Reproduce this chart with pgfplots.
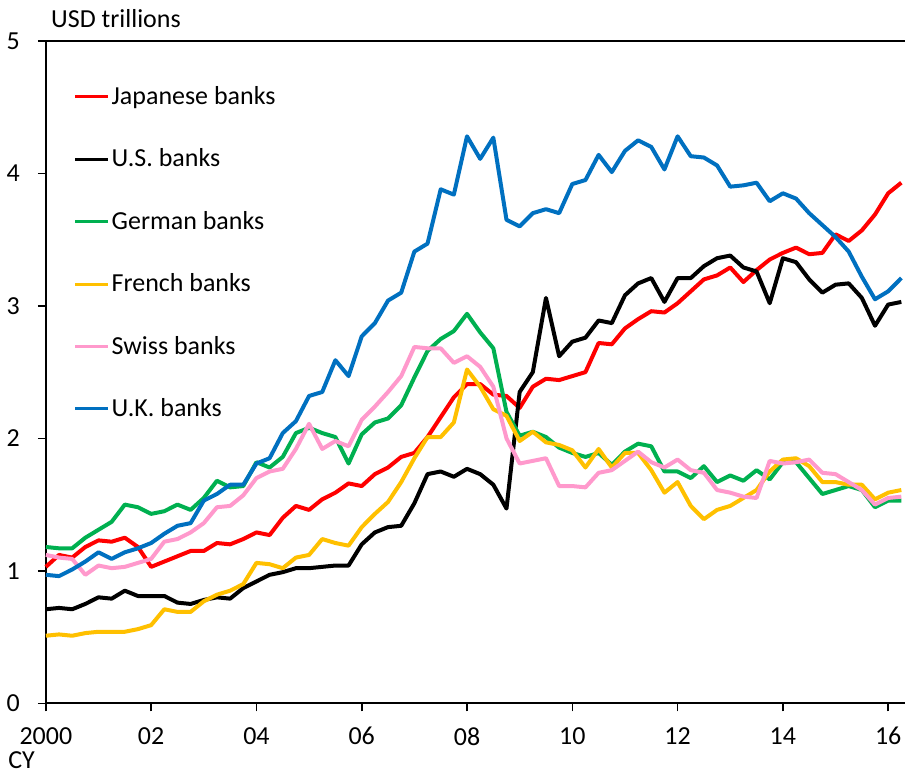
\documentclass[border=0pt]{standalone}
\usepackage{fontspec}
\setmainfont{Carlito}
\usepackage{pgfplots}
\usepackage{pgfplotstable}
\pgfplotsset{compat=1.18}

\definecolor{jpred}{HTML}{FF0000}
\definecolor{degreen}{HTML}{00B050}
\definecolor{fryellow}{HTML}{FFC000}
\definecolor{chpink}{HTML}{FF99CC}
\definecolor{ukblue}{HTML}{0070C0}

% quarterly, 2000Q1 .. 2016Q2 (USD trillions)
\pgfplotstableread{
t       jp    us    de    fr    ch    uk
2000.00 1.03  0.71  1.18  0.51  1.12  0.97
2000.25 1.12  0.72  1.17  0.52  1.10  0.96
2000.50 1.10  0.71  1.17  0.51  1.09  1.01
2000.75 1.18  0.75  1.25  0.53  0.97  1.07
2001.00 1.23  0.80  1.31  0.54  1.04  1.14
2001.25 1.22  0.79  1.37  0.54  1.02  1.09
2001.50 1.25  0.85  1.50  0.54  1.03  1.14
2001.75 1.18  0.81  1.48  0.56  1.06  1.17
2002.00 1.03  0.81  1.43  0.59  1.09  1.21
2002.25 1.07  0.81  1.45  0.71  1.22  1.28
2002.50 1.11  0.76  1.50  0.69  1.24  1.34
2002.75 1.15  0.75  1.46  0.69  1.29  1.36
2003.00 1.15  0.78  1.55  0.77  1.36  1.53
2003.25 1.21  0.80  1.68  0.82  1.48  1.58
2003.50 1.20  0.79  1.63  0.85  1.49  1.65
2003.75 1.24  0.87  1.64  0.90  1.57  1.65
2004.00 1.29  0.92  1.82  1.06  1.70  1.81
2004.25 1.27  0.97  1.78  1.05  1.75  1.85
2004.50 1.40  0.99  1.86  1.02  1.77  2.04
2004.75 1.49  1.02  2.04  1.10  1.92  2.13
2005.00 1.46  1.02  2.08  1.12  2.11  2.32
2005.25 1.54  1.03  2.04  1.24  1.92  2.35
2005.50 1.59  1.04  2.01  1.21  1.98  2.59
2005.75 1.66  1.04  1.81  1.19  1.94  2.47
2006.00 1.64  1.20  2.03  1.33  2.14  2.77
2006.25 1.73  1.29  2.12  1.43  2.24  2.87
2006.50 1.78  1.33  2.15  1.52  2.35  3.04
2006.75 1.86  1.34  2.25  1.67  2.47  3.10
2007.00 1.89  1.51  2.46  1.85  2.69  3.41
2007.25 2.01  1.73  2.66  2.01  2.68  3.47
2007.50 2.16  1.75  2.75  2.01  2.68  3.88
2007.75 2.31  1.71  2.81  2.12  2.57  3.84
2008.00 2.41  1.77  2.94  2.52  2.62  4.28
2008.25 2.41  1.73  2.80  2.39  2.54  4.11
2008.50 2.33  1.65  2.68  2.22  2.39  4.27
2008.75 2.32  1.47  2.20  2.17  2.00  3.65
2009.00 2.23  2.35  2.02  1.98  1.81  3.60
2009.25 2.39  2.50  2.05  2.05  1.83  3.70
2009.50 2.45  3.06  2.01  1.97  1.85  3.73
2009.75 2.44  2.62  1.93  1.95  1.64  3.70
2010.00 2.47  2.73  1.89  1.91  1.64  3.92
2010.25 2.50  2.76  1.86  1.78  1.63  3.95
2010.50 2.72  2.89  1.89  1.92  1.74  4.14
2010.75 2.71  2.87  1.80  1.78  1.76  4.01
2011.00 2.83  3.08  1.90  1.89  1.83  4.17
2011.25 2.90  3.17  1.96  1.89  1.90  4.25
2011.50 2.96  3.21  1.94  1.76  1.82  4.20
2011.75 2.95  3.03  1.75  1.59  1.78  4.03
2012.00 3.02  3.21  1.75  1.67  1.84  4.28
2012.25 3.11  3.21  1.70  1.49  1.76  4.13
2012.50 3.20  3.30  1.79  1.39  1.74  4.12
2012.75 3.23  3.36  1.67  1.46  1.61  4.06
2013.00 3.29  3.38  1.72  1.49  1.59  3.90
2013.25 3.18  3.29  1.68  1.55  1.56  3.91
2013.50 3.27  3.26  1.76  1.61  1.55  3.93
2013.75 3.35  3.02  1.69  1.75  1.83  3.79
2014.00 3.40  3.36  1.82  1.84  1.81  3.85
2014.25 3.44  3.33  1.82  1.85  1.82  3.81
2014.50 3.39  3.20  1.70  1.79  1.84  3.70
2014.75 3.40  3.10  1.58  1.67  1.74  3.61
2015.00 3.54  3.16  1.61  1.67  1.73  3.52
2015.25 3.49  3.17  1.64  1.65  1.67  3.41
2015.50 3.57  3.06  1.61  1.65  1.61  3.22
2015.75 3.69  2.85  1.48  1.54  1.50  3.05
2016.00 3.85  3.01  1.53  1.59  1.55  3.11
2016.25 3.93  3.03  1.53  1.61  1.56  3.21
}\banks

\begin{document}
\begin{tikzpicture}[font=\fontsize{13}{15}\selectfont]
\begin{axis}[
  width=430pt, height=331.5pt,
  scale only axis,
  axis x line*=box,
  axis y line*=left,
  xtick pos=bottom,
  ytick pos=left,
  axis line style={line width=1pt},
  xmin=2000, xmax=2016.32,
  ymin=0, ymax=5,
  xtick={2000,2002,...,2016},
  xticklabels={2000,02,04,06,08,10,12,14,16},
  ytick={0,1,...,5},
  tick align=outside,
  major tick length=4pt,
  tick style={black, line width=0.8pt},
  ticklabel style={font=\fontsize{13}{15}\selectfont},
  xticklabel style={yshift=-4.5pt},
  yticklabel style={xshift=-5.5pt},
  /pgf/number format/assume math mode=true,
  clip=false,
  legend cell align=left,
  legend style={
    at={(0.032,0.935)}, anchor=north west,
    draw=none, fill=none,
    row sep=18.7pt,
    inner sep=0pt,
    nodes={inner sep=1pt},
    font=\fontsize{13}{15}\selectfont,
  },
  legend image code/.code={\draw[#1, line width=1.5pt] (0pt,0pt) -- (16.5pt,0pt);},
  every axis plot/.append style={line width=2pt, line join=round},
]
\addplot[jpred]    table[x=t, y=jp] {\banks};
\addlegendentry{Japanese banks}
\addplot[black]    table[x=t, y=us] {\banks};
\addlegendentry{U.S. banks}
\addplot[degreen]  table[x=t, y=de] {\banks};
\addlegendentry{German banks}
\addplot[fryellow] table[x=t, y=fr] {\banks};
\addlegendentry{French banks}
\addplot[chpink]   table[x=t, y=ch] {\banks};
\addlegendentry{Swiss banks}
\addplot[ukblue]   table[x=t, y=uk] {\banks};
\addlegendentry{U.K. banks}

\node[anchor=base west, inner sep=0pt] at ([xshift=2.5pt, yshift=6.5pt]rel axis cs:0,1) {USD trillions};
\node[anchor=north west, inner sep=0pt] at ([xshift=-19pt, yshift=-24pt]rel axis cs:0,0) {CY};
\path ([xshift=-22.5pt, yshift=20.5pt]rel axis cs:0,1) rectangle ([xshift=4pt, yshift=-35pt]rel axis cs:1,0);
\end{axis}
\end{tikzpicture}
\end{document}
